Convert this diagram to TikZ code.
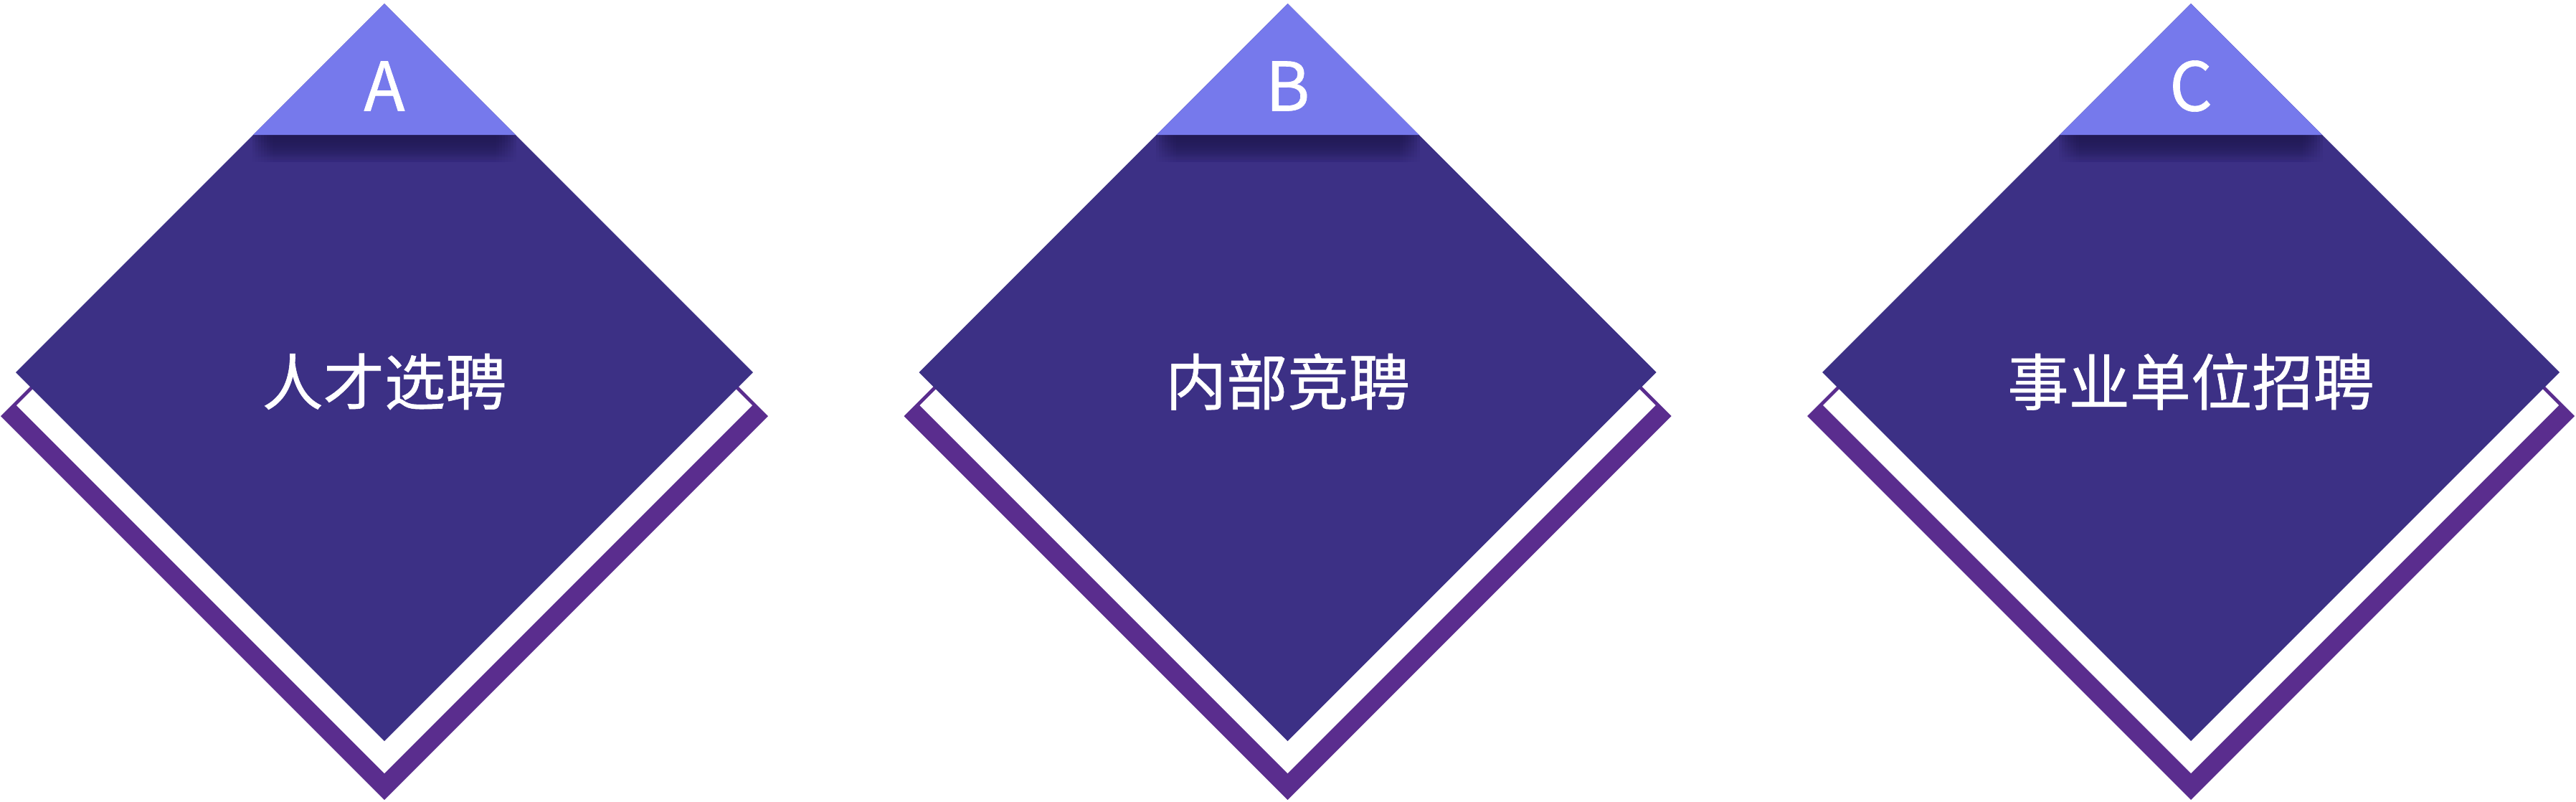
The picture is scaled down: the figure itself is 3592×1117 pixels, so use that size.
\documentclass[tikz,border=0pt]{standalone}
\usepackage{fontspec}
\setmainfont{Noto Sans CJK SC}[FakeBold=0.7]
\usetikzlibrary{fadings}
\definecolor{dkviolet}{HTML}{3C3085}
\definecolor{ltviolet}{HTML}{7679EC}
\definecolor{pviolet}{HTML}{5A2D8E}
\definecolor{shviolet}{HTML}{1F1850}
\tikzfading[name=shfade, top color=transparent!0, middle color=transparent!60, bottom color=transparent!100]
\tikzset{
  backdiamond/.style={fill=pviolet},
  gapdiamond/.style={fill=white},
  maindiamond/.style={fill=dkviolet},
  capband/.style={fill=ltviolet},
  shadowlayer/.style={fill=shviolet, path fading=shfade, opacity=0.22},
  lettertext/.style={text=white, inner sep=0pt, font=\fontsize{23.5pt}{28pt}\selectfont},
  titletext/.style={text=white, inner sep=0pt, font=\fontsize{21.3pt}{25pt}\selectfont}
}
\begin{document}
\begin{tikzpicture}[x=0.25pt,y=-0.25pt]
\useasboundingbox (0,0) rectangle (3592,1117);
\foreach \cx/\mylab/\mytxt/\myid in {536/A/人才选聘/a, 1795.5/B/内部竞聘/b, 3055/C/事业单位招聘/c} {
  \fill[backdiamond] (\cx,45) -- (\cx+535,580) -- (\cx,1115) -- (\cx-535,580) -- cycle;
  \fill[gapdiamond] (\cx,52) -- (\cx+513,565) -- (\cx,1078) -- (\cx-513,565) -- cycle;
  \fill[maindiamond] (\cx,5) -- (\cx+514,519) -- (\cx,1033) -- (\cx-514,519) -- cycle;
  \begin{scope}
    \clip (\cx,5) -- (\cx+514,519) -- (\cx,1033) -- (\cx-514,519) -- cycle;
    \foreach \k in {0,...,7} {
      \fill[shadowlayer] (\cx-184+4*\k,188) rectangle (\cx+184-4*\k,226);
    }
  \end{scope}
  \fill[capband] (\cx,5) -- (\cx+183,188) -- (\cx-183,188) -- cycle;
  \node[lettertext] (lab\myid) at (\cx,120) {\mylab};
  \node[titletext] (txt\myid) at (\cx,532) {\mytxt};
}
\end{tikzpicture}
\end{document}
